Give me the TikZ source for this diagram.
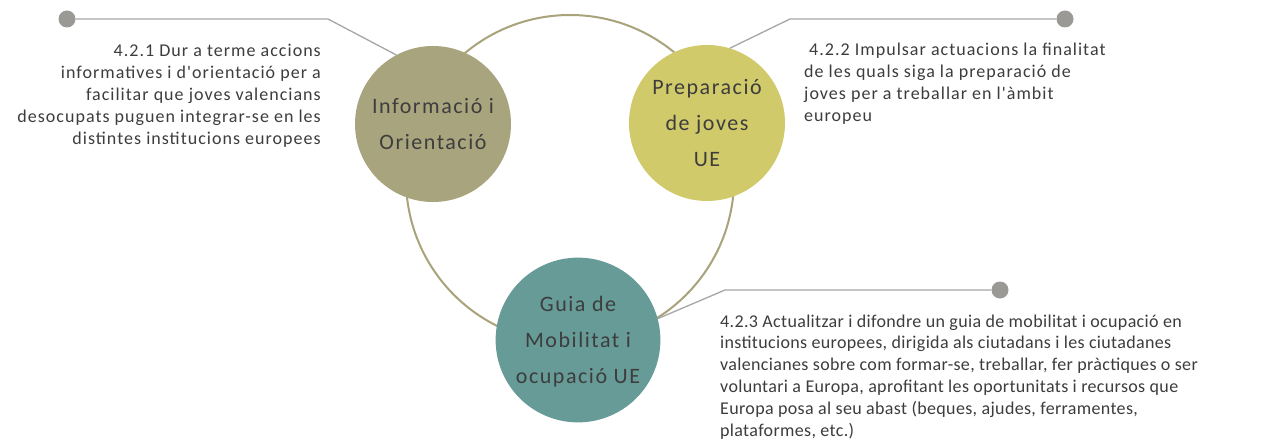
\documentclass[tikz,border=0pt]{standalone}
\usepackage{fontspec}
\setmainfont{Carlito}
\newfontfamily\sparsefont[LetterSpace=5.7]{Carlito}
\newfontfamily\tightfont[LetterSpace=1.9]{Carlito}
\newfontfamily\topicfont[LetterSpace=7]{Carlito}
\definecolor{ringc}{HTML}{A8A37B}
\definecolor{infoc}{HTML}{A8A47D}
\definecolor{prepc}{HTML}{D1CA6B}
\definecolor{guiac}{HTML}{669B97}
\definecolor{txt}{HTML}{3D3D3D}
\definecolor{leadc}{HTML}{A6A6A6}
\definecolor{dotc}{HTML}{9B9995}
\tikzset{
  ring/.style={circle, draw=ringc, line width=2pt, minimum size=328pt, inner sep=0pt},
  topic/.style={circle, minimum size=156pt, inner sep=0pt, text=txt,
    font=\topicfont\fontsize{22}{36}\selectfont},
  lead/.style={draw=leadc, line width=1.3pt},
  knob/.style={circle, fill=dotc, minimum size=17pt, inner sep=0pt},
  note/.style={inner sep=0pt, text=txt},
}
\newcommand{\topictext}[1]{\raisebox{-4pt}{\begin{tabular}{@{}c@{}}#1\end{tabular}}}
\begin{document}
\begin{tikzpicture}[x=1pt,y=-1pt]
\useasboundingbox (0,0) rectangle (1264,444);
\fill[white] (0,0) rectangle (1264,444);
% ring
\node[ring] (ring) at (570,179) {};
% topics
\node[topic, fill=infoc] (info) at (433,124) {\topictext{Informació i\\Orientació}};
\node[topic, fill=prepc] (prep) at (707,123) {\topictext{Preparació\\de joves\\UE}};
\node[topic, fill=guiac] (guia) at (578,340) {\topictext{Guia de\\Mobilitat i\\ocupació UE}};
% knobs and bends
\node[knob] (d1) at (67,19) {};
\coordinate (k1) at (328,19);
\node[knob] (d2) at (1065,19) {};
\coordinate (k2) at (790,19);
\node[knob] (d3) at (1000,290) {};
\coordinate (k3) at (725,290);
\draw[lead] (d1) -- (k1) -- (info.118);
\draw[lead] (d2) -- (k2) -- (prep.73);
\draw[lead] (d3) -- (k3) -- (guia.15);
% notes
\node[note, anchor=base east] (n1) at (321,57) {\begin{minipage}[t]{340pt}\sparsefont\fontsize{18}{21.8}\selectfont\raggedleft
4.2.1 Dur a terme accions\\
informatives i d'orientació per a\\
facilitar que joves valencians\\
desocupats puguen integrar-se en les\\
distintes institucions europees\end{minipage}};
\node[note, anchor=base west] (n2) at (804,56) {\begin{minipage}[t]{380pt}\sparsefont\fontsize{18}{21.8}\selectfont\raggedright
\hspace*{5pt}4.2.2 Impulsar actuacions la finalitat\\
de les quals siga la preparació de\\
joves per a treballar en l'àmbit\\
europeu\end{minipage}};
\node[note, anchor=base west] (n3) at (720,327) {\begin{minipage}[t]{540pt}\tightfont\fontsize{18}{21.8}\selectfont\raggedright
4.2.3 Actualitzar i difondre un guia de mobilitat i ocupació en\\
institucions europees, dirigida als ciutadans i les ciutadanes\\
valencianes sobre com formar-se, treballar, fer pràctiques o ser\\
voluntari a Europa, aprofitant les oportunitats i recursos que\\
Europa posa al seu abast (beques, ajudes, ferramentes,\\
plataformes, etc.)\end{minipage}};
\end{tikzpicture}
\end{document}
